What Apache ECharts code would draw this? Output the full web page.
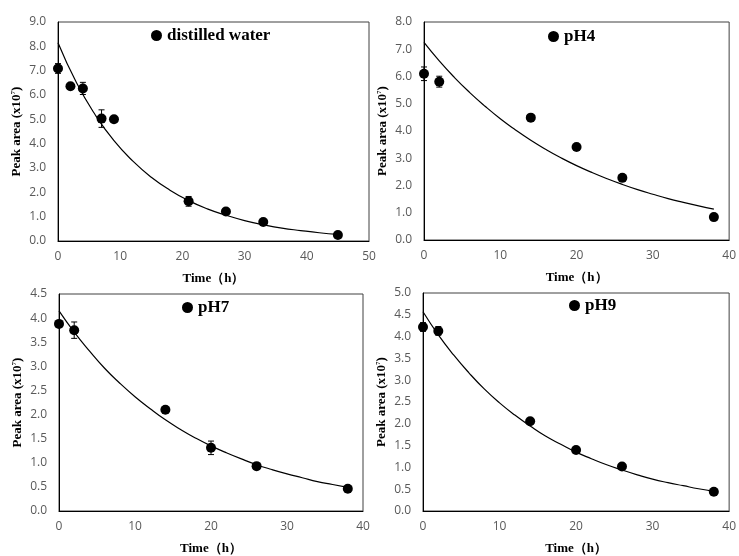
<!DOCTYPE html>
<html>
<head>
<meta charset="utf-8">
<script src="https://cdn.jsdelivr.net/npm/echarts@6/dist/echarts.min.js"></script>
<style>
  html, body { margin: 0; padding: 0; background: #fff; }
  #main { width: 739px; height: 556px; }
</style>
</head>
<body>
<div id="main"></div>
<script>
// measured points: [time (h), peak area x10^7]
var waterPts = [[0, 7.09], [2, 6.36], [4, 6.27], [7, 5.03], [9, 5.0], [21, 1.63], [27, 1.21], [33, 0.78], [45, 0.25]];
var waterErr = [0.2, 0, 0.25, 0.36, 0, 0.2, 0, 0, 0];
var waterFit = [[0, 8.15], [3, 6.49], [6, 5.18], [9, 4.12], [12, 3.29], [15, 2.62], [18, 2.09], [21, 1.66], [24, 1.32], [27, 1.06], [30, 0.84], [33, 0.67], [36, 0.53], [39, 0.43], [42, 0.34], [45, 0.27]];

var ph4Pts = [[0, 6.1], [2, 5.81], [14, 4.49], [20, 3.41], [26, 2.28], [38, 0.84]];
var ph4Err = [0.25, 0.2, 0, 0, 0.08, 0.08];
var ph4Fit = [[0, 7.25], [2, 6.57], [4, 5.96], [6, 5.41], [8, 4.91], [10, 4.45], [12, 4.04], [14, 3.66], [16, 3.32], [18, 3.01], [20, 2.73], [22, 2.48], [24, 2.25], [26, 2.04], [28, 1.85], [30, 1.68], [32, 1.52], [34, 1.38], [36, 1.25], [38, 1.13]];

var ph7Pts = [[0, 3.88], [2, 3.75], [14, 2.1], [20, 1.31], [26, 0.93], [38, 0.46]];
var ph7Err = [0, 0.17, 0, 0.14, 0, 0];
var ph7Fit = [[0, 4.15], [2, 3.71], [4, 3.32], [6, 2.96], [8, 2.65], [10, 2.37], [12, 2.12], [14, 1.89], [16, 1.69], [18, 1.51], [20, 1.35], [22, 1.21], [24, 1.08], [26, 0.96], [28, 0.86], [30, 0.77], [32, 0.69], [34, 0.61], [36, 0.55], [38, 0.49]];

var ph9Pts = [[0, 4.22], [2, 4.13], [14, 2.06], [20, 1.4], [26, 1.02], [38, 0.44]];
var ph9Err = [0.1, 0.1, 0.05, 0, 0, 0];
var ph9Fit = [[0, 4.57], [2, 4.04], [4, 3.58], [6, 3.17], [8, 2.8], [10, 2.48], [12, 2.2], [14, 1.95], [16, 1.72], [18, 1.53], [20, 1.35], [22, 1.2], [24, 1.06], [26, 0.94], [28, 0.83], [30, 0.73], [32, 0.65], [34, 0.58], [36, 0.51], [38, 0.45]];

var panelNames = ['distilled water', 'pH4', 'pH7', 'pH9'];
var xMax = [50, 40, 40, 40];
var yMax = [9, 8, 4.5, 5];
var yStep = [1, 1, 0.5, 0.5];

var pts = [waterPts, ph4Pts, ph7Pts, ph9Pts];
var errs = [waterErr, ph4Err, ph7Err, ph9Err];
var fits = [waterFit, ph4Fit, ph7Fit, ph9Fit];

// layout of the four plot boxes
var grids = [
  { left: 58, top: 22, width: 311, height: 219 },
  { left: 424, top: 22, width: 308, height: 218 },
  { left: 59, top: 294, width: 304, height: 218 },
  { left: 423, top: 293, width: 309, height: 218 }
];
var legendPos = [
  { left: 146, top: 22 },
  { left: 543, top: 23 },
  { left: 177, top: 294 },
  { left: 564, top: 292 }
];

var serif = '"Liberation Serif", "DejaVu Serif", serif';
var labelStyle = { color: '#595959', fontSize: 12, fontFamily: '"Open Sans", "Noto Sans", sans-serif' };

function errorBars(params, api) {
  var x = api.value(0), y = api.value(1), e = api.value(2);
  if (!e) return null;
  var top = api.coord([x, y + e]);
  var bot = api.coord([x, y - e]);
  var w = 3;
  var st = { stroke: '#000', lineWidth: 1 };
  return {
    type: 'group',
    children: [
      { type: 'line', shape: { x1: top[0], y1: top[1], x2: bot[0], y2: bot[1] }, style: st },
      { type: 'line', shape: { x1: top[0] - w, y1: top[1], x2: top[0] + w, y2: top[1] }, style: st },
      { type: 'line', shape: { x1: bot[0] - w, y1: bot[1], x2: bot[0] + w, y2: bot[1] }, style: st }
    ]
  };
}

var option = {
  animation: false,
  grid: [], xAxis: [], yAxis: [], legend: [], series: []
};

for (var i = 0; i < 4; i++) {
  var g = grids[i];
  option.grid.push({
    left: g.left, top: g.top, width: g.width, height: g.height,
    show: true, borderColor: '#404040', borderWidth: 1
  });
  option.xAxis.push({
    gridIndex: i, type: 'value', min: 0, max: xMax[i], interval: 10,
    name: 'Time（h）', nameLocation: 'middle', nameGap: 31,
    nameTextStyle: { fontFamily: serif, fontWeight: 'bold', fontSize: 13, color: '#000' },
    axisLine: { show: true, onZero: false, lineStyle: { color: '#000' } },
    axisTick: { show: false },
    axisLabel: Object.assign({ margin: 10 }, labelStyle),
    splitLine: { show: false }
  });
  option.yAxis.push({
    gridIndex: i, type: 'value', min: 0, max: yMax[i], interval: yStep[i],
    name: 'Peak area (x10{sup|7})', nameLocation: 'middle', nameGap: 34,
    nameTextStyle: {
      fontFamily: serif, fontWeight: 'bold', fontSize: 13, color: '#000',
      rich: { sup: { fontFamily: serif, fontSize: 7, fontWeight: 'bold', color: '#000', padding: [0, 0, 7, 0] } }
    },
    axisLine: { show: true, lineStyle: { color: '#000' } },
    axisTick: { show: false },
    axisLabel: Object.assign({
      margin: 12,
      formatter: function (v) { return v.toFixed(1); }
    }, labelStyle),
    splitLine: { show: false }
  });
  option.legend.push({
    data: [panelNames[i]],
    left: legendPos[i].left, top: legendPos[i].top,
    icon: 'circle', itemWidth: 11, itemHeight: 11, itemGap: 4,
    itemStyle: { color: '#000', opacity: 1 },
    textStyle: { fontFamily: serif, fontWeight: 'bold', fontSize: 17, color: '#000' },
    selectedMode: false
  });
  option.series.push({
    type: 'line', xAxisIndex: i, yAxisIndex: i, data: fits[i],
    smooth: true, showSymbol: false, silent: true,
    lineStyle: { color: '#000', width: 1.2 }
  });
  option.series.push({
    name: panelNames[i], type: 'scatter', xAxisIndex: i, yAxisIndex: i,
    data: pts[i], symbol: 'circle', symbolSize: 10,
    itemStyle: { color: '#000', opacity: 1 }, z: 4
  });
  option.series.push({
    type: 'custom', xAxisIndex: i, yAxisIndex: i,
    renderItem: errorBars, encode: { x: 0, y: 1 },
    data: pts[i].map(function (p, k) { return [p[0], p[1], errs[i][k]]; }),
    z: 5
  });
}

var myChart = echarts.init(document.getElementById('main'));
myChart.setOption(option);
</script>
</body>
</html>
